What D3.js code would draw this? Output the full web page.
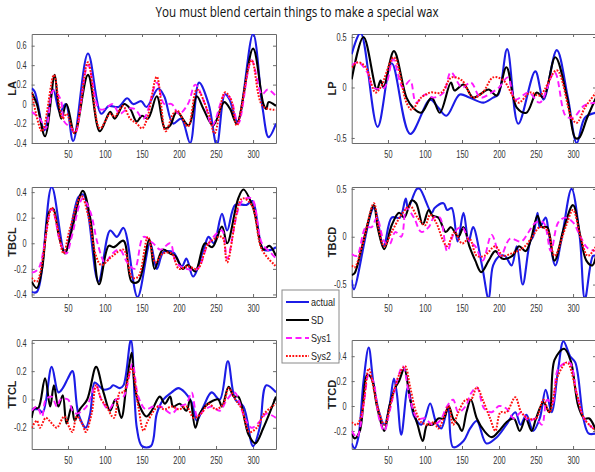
<!DOCTYPE html>
<html><head><meta charset="utf-8">
<script src="https://cdn.jsdelivr.net/npm/d3@7"></script>
<style>body{margin:0;background:#fff}svg{display:block}</style>
</head><body>
<script>
// ---------------- DATA ----------------
const chartTitle = "You must blend certain things to make a special wax";
const seriesNames = ["actual", "SD", "Sys1", "Sys2"];
const xTickValues = [50, 100, 150, 200, 250, 300];
const xLimits = [1, 331];
const panelNames = ["LA", "LP", "TBCL", "TBCD", "TTCL", "TTCD"];

const yLimLA = [-0.4, 0.72],  yTicksLA = [-0.4, -0.2, 0, 0.2, 0.4, 0.6];
const yLimLP = [-0.55, 0.53], yTicksLP = [-0.5, 0, 0.5];
const yLimTBCL = [-0.42, 0.44], yTicksTBCL = [-0.4, -0.2, 0, 0.2, 0.4];
const yLimTBCD = [-0.63, 0.52], yTicksTBCD = [-0.5, 0, 0.5];
const yLimTTCL = [-0.35, 0.42], yTicksTTCL = [-0.2, 0, 0.2, 0.4];
const yLimTTCD = [-0.345, 0.53], yTicksTTCD = [-0.2, 0, 0.2, 0.4];

// LA
const LA_actual = [[1,0.16],[5,0.13],[18,-0.27],[30,0.15],[39,-0.08],[47,0.0],[57,-0.38],[77,0.52],[95,-0.1],[105,-0.02],[118,-0.03],[130,0.06],[138,0.0],[149,0.03],[156,-0.03],[172,0.16],[180,0.08],[192,-0.2],[203,-0.15],[215,-0.4],[227,0.22],[240,0.0],[251,-0.42],[262,0.1],[268,0.05],[279,-0.18],[300,0.72],[313,-0.05],[321,-0.34],[331,-0.2]];
const LA_SD = [[1,0.12],[8,0.0],[19,-0.33],[32,0.3],[36,0.05],[41,-0.15],[48,0.0],[59,-0.3],[77,0.3],[93,-0.28],[107,-0.08],[113,-0.15],[126,0.0],[134,-0.05],[143,-0.18],[150,-0.12],[158,-0.15],[170,0.08],[181,-0.25],[188,-0.22],[197,-0.08],[213,-0.22],[224,0.08],[233,-0.05],[246,-0.22],[261,0.02],[269,-0.05],[278,-0.2],[300,0.57],[314,0.0],[318,-0.05],[321,0.02],[331,-0.02]];
const LA_Sys1 = [[1,-0.08],[12,-0.15],[20,-0.25],[30,0.14],[40,0.05],[45,-0.18],[55,-0.25],[60,-0.3],[77,0.4],[92,-0.05],[100,-0.05],[110,0.0],[120,-0.1],[130,-0.05],[140,-0.05],[152,-0.15],[170,0.22],[180,0.0],[190,0.0],[200,-0.1],[212,0.0],[222,0.2],[235,0.0],[245,-0.22],[262,0.1],[270,0.05],[280,-0.2],[298,0.45],[312,0.1],[320,0.15],[331,0.08]];
const LA_Sys2 = [[1,0.12],[15,-0.28],[31,0.3],[38,0.0],[43,-0.15],[48,-0.1],[59,-0.3],[77,0.43],[93,-0.25],[107,-0.1],[113,-0.13],[124,-0.02],[134,-0.15],[143,-0.2],[150,-0.25],[157,-0.15],[170,0.28],[182,-0.28],[192,-0.1],[198,-0.07],[212,-0.23],[224,0.15],[240,-0.1],[248,-0.3],[262,0.12],[270,0.05],[278,-0.22],[298,0.45],[313,-0.02],[331,-0.06]];

// LP
const LP_actual = [[1,0.33],[13,0.54],[36,-0.39],[55,0.24],[80,-0.46],[107,-0.12],[118,-0.2],[129,-0.28],[147,-0.07],[160,-0.1],[179,-0.15],[192,-0.1],[199,-0.07],[211,0.38],[226,-0.36],[249,0.16],[260,-0.12],[278,0.37],[293,-0.1],[305,-0.55],[316,-0.3],[331,-0.25]];
const LP_SD = [[1,0.08],[17,0.5],[35,-0.02],[40,0.07],[44,0.0],[58,0.36],[75,-0.1],[84,-0.2],[95,-0.25],[109,-0.1],[120,-0.25],[135,0.05],[140,-0.03],[152,0.03],[165,-0.1],[174,-0.07],[186,-0.02],[197,-0.08],[210,0.2],[224,-0.2],[237,-0.25],[251,-0.05],[260,-0.1],[276,0.3],[292,-0.1],[303,-0.5],[308,-0.5],[319,-0.3],[331,-0.1]];
const LP_Sys1 = [[1,0.22],[10,0.25],[22,0.15],[30,0.0],[45,0.0],[57,0.28],[70,0.0],[80,0.07],[88,-0.15],[100,-0.07],[112,-0.1],[125,-0.05],[135,0.15],[150,0.0],[162,0.05],[175,-0.1],[190,-0.05],[200,0.0],[212,0.1],[222,-0.12],[240,-0.05],[255,-0.15],[275,0.15],[290,-0.28],[300,-0.3],[315,-0.18],[331,-0.15]];
const LP_Sys2 = [[1,0.2],[10,0.25],[20,0.2],[33,-0.05],[40,0.0],[58,0.3],[75,-0.15],[82,-0.22],[95,-0.1],[107,-0.05],[122,-0.05],[136,0.1],[150,0.07],[165,-0.1],[178,-0.05],[192,0.1],[206,0.07],[226,-0.15],[242,-0.05],[255,-0.08],[278,0.17],[298,-0.3],[305,-0.35],[316,-0.2],[331,-0.05]];

// TBCL
const TBCL_actual = [[1,-0.38],[8,-0.38],[28,0.44],[46,-0.07],[64,0.36],[71,0.38],[91,-0.3],[107,0.1],[116,0.05],[125,0.12],[144,-0.42],[161,0.0],[170,-0.2],[179,-0.07],[192,-0.07],[204,-0.18],[210,-0.12],[219,-0.26],[233,-0.05],[240,0.05],[247,0.0],[258,0.23],[265,0.1],[276,0.3],[291,0.3],[299,0.33],[314,-0.05],[325,-0.05],[331,-0.03]];
const TBCL_SD = [[1,-0.3],[8,-0.35],[15,-0.2],[25,0.25],[30,0.27],[38,0.05],[46,-0.08],[55,0.1],[70,0.41],[80,0.2],[92,-0.32],[105,-0.02],[112,-0.03],[125,0.02],[136,-0.3],[145,-0.3],[160,0.03],[167,-0.2],[178,-0.05],[188,-0.08],[195,-0.1],[205,-0.2],[212,-0.17],[222,-0.22],[235,0.0],[245,-0.03],[258,0.13],[265,0.0],[280,0.35],[287,0.42],[300,0.28],[314,-0.05],[322,-0.02],[331,-0.1]];
const TBCL_Sys1 = [[1,-0.23],[10,-0.2],[28,0.27],[40,0.0],[48,-0.08],[55,0.05],[70,0.35],[80,0.25],[90,0.0],[100,-0.15],[110,-0.08],[120,-0.05],[130,-0.15],[140,-0.2],[152,0.05],[165,0.0],[175,-0.05],[188,0.0],[196,-0.15],[210,-0.2],[225,-0.2],[240,0.0],[258,0.1],[265,-0.12],[285,0.33],[298,0.35],[312,0.0],[325,-0.08],[331,-0.12]];
const TBCL_Sys2 = [[1,-0.27],[8,-0.3],[28,0.28],[35,0.15],[44,-0.08],[52,0.1],[68,0.37],[78,0.2],[88,-0.1],[95,-0.17],[110,-0.1],[125,-0.05],[137,-0.27],[145,-0.26],[158,0.05],[168,-0.15],[178,-0.08],[190,-0.08],[200,-0.2],[212,-0.18],[225,-0.2],[240,0.0],[258,0.05],[265,-0.15],[285,0.35],[298,0.3],[312,-0.05],[331,-0.18]];

// TBCD
const TBCD_actual = [[1,-0.45],[4,-0.55],[31,0.3],[44,-0.1],[55,0.2],[66,0.2],[74,0.4],[77,0.3],[89,0.5],[93,0.5],[109,0.25],[113,0.3],[125,0.35],[130,0.28],[136,0.3],[144,-0.05],[152,0.25],[159,-0.05],[165,0.1],[177,-0.3],[186,-0.65],[192,-0.3],[201,-0.2],[208,-0.2],[217,-0.3],[224,-0.1],[232,-0.5],[242,-0.05],[246,0.0],[252,0.25],[255,0.1],[263,0.2],[267,0.05],[276,-0.3],[285,0.0],[298,0.5],[309,0.0],[316,-0.65],[327,-0.2],[331,-0.2]];
const TBCD_SD = [[1,-0.4],[5,-0.38],[15,-0.1],[31,0.33],[36,0.1],[45,-0.13],[55,0.12],[65,0.25],[72,0.2],[82,0.38],[88,0.35],[97,0.13],[105,0.28],[110,0.22],[118,0.2],[128,0.05],[135,0.1],[145,0.0],[152,0.1],[160,-0.1],[168,-0.25],[176,-0.37],[186,-0.25],[195,-0.15],[205,-0.23],[218,-0.2],[227,-0.1],[236,-0.15],[243,-0.03],[252,0.22],[258,0.1],[265,0.1],[275,-0.25],[288,0.1],[300,0.33],[310,0.0],[318,-0.25],[326,-0.3],[331,-0.2]];
const TBCD_Sys1 = [[1,-0.18],[8,-0.2],[20,0.1],[28,0.1],[35,0.2],[45,-0.05],[52,-0.08],[60,0.05],[68,0.0],[75,0.3],[85,0.2],[95,0.05],[105,0.1],[112,0.2],[120,0.2],[130,-0.15],[140,0.05],[150,0.1],[160,-0.05],[168,-0.1],[178,-0.25],[190,0.02],[202,-0.2],[215,-0.02],[230,-0.05],[240,0.05],[250,0.15],[260,0.15],[270,-0.15],[280,0.15],[290,0.2],[300,0.15],[310,0.0],[320,-0.12],[331,-0.15]];
const TBCD_Sys2 = [[1,-0.3],[5,-0.32],[15,-0.1],[31,0.35],[37,0.1],[45,-0.1],[55,0.05],[70,0.25],[80,0.32],[90,0.2],[100,0.12],[107,0.23],[115,0.15],[125,-0.05],[130,-0.1],[140,0.05],[150,-0.07],[160,-0.02],[170,-0.2],[180,-0.2],[195,-0.1],[205,-0.2],[215,-0.18],[225,-0.15],[235,-0.1],[245,0.0],[255,0.1],[265,0.07],[275,-0.2],[290,0.1],[300,0.28],[310,0.0],[320,-0.2],[331,-0.1]];

// TTCL
const TTCL_actual = [[1,-0.07],[10,-0.07],[16,-0.09],[28,0.23],[37,0.05],[43,0.08],[50,0.15],[56,0.2],[64,-0.1],[74,-0.2],[80,-0.1],[86,0.12],[91,0.1],[98,0.07],[107,0.08],[111,0.1],[120,0.08],[125,0.1],[135,0.42],[143,-0.2],[150,-0.33],[162,-0.33],[170,-0.1],[179,0.0],[190,0.05],[199,0.08],[208,0.05],[217,-0.02],[224,-0.15],[233,-0.05],[244,0.05],[255,0.0],[266,0.27],[276,0.0],[287,-0.05],[300,-0.33],[309,-0.2],[318,0.1],[331,0.05]];
const TTCL_SD = [[1,-0.13],[5,-0.06],[10,-0.06],[19,0.15],[26,-0.05],[31,0.1],[37,-0.05],[43,0.03],[48,-0.17],[55,-0.05],[59,-0.15],[66,-0.07],[76,0.0],[88,0.23],[98,0.05],[107,-0.08],[114,0.0],[122,-0.13],[129,0.1],[136,0.33],[140,0.1],[147,-0.05],[156,-0.12],[163,-0.08],[174,0.02],[181,-0.03],[188,0.02],[192,-0.05],[201,-0.03],[210,-0.08],[215,0.0],[222,-0.2],[228,-0.1],[235,-0.05],[242,-0.02],[253,0.0],[258,-0.05],[267,0.09],[274,0.02],[280,0.02],[294,-0.25],[303,-0.31],[314,-0.2],[331,0.02]];
const TTCL_Sys1 = [[1,-0.08],[8,-0.05],[15,-0.12],[20,0.0],[28,0.02],[35,-0.05],[40,0.0],[50,0.0],[56,-0.08],[62,-0.1],[75,-0.05],[88,0.1],[95,0.0],[105,-0.07],[115,0.0],[125,0.02],[137,0.25],[145,0.02],[155,-0.07],[165,-0.05],[175,-0.05],[190,-0.1],[200,-0.05],[210,-0.03],[217,0.05],[225,-0.12],[235,-0.07],[245,-0.05],[255,-0.08],[265,0.0],[275,0.05],[288,-0.12],[298,-0.2],[310,-0.15],[318,-0.1],[331,-0.13]];
const TTCL_Sys2 = [[1,-0.2],[8,-0.15],[12,-0.2],[20,-0.13],[25,-0.15],[30,-0.18],[35,-0.2],[45,-0.12],[52,-0.2],[56,-0.23],[62,-0.12],[70,-0.18],[74,-0.23],[82,-0.1],[88,0.1],[95,0.0],[102,-0.05],[112,-0.13],[120,0.05],[125,0.05],[136,0.22],[145,-0.05],[152,-0.22],[158,-0.15],[172,-0.05],[180,-0.07],[190,-0.05],[200,-0.07],[210,-0.05],[220,-0.13],[230,-0.1],[240,-0.03],[250,-0.07],[260,-0.03],[267,0.08],[276,0.0],[285,-0.07],[295,-0.23],[305,-0.2],[315,-0.1],[331,-0.03]];

// TTCD
const TTCD_actual = [[1,-0.3],[5,-0.34],[10,-0.25],[17,0.2],[24,0.47],[30,0.2],[38,-0.05],[45,-0.15],[52,0.0],[58,0.22],[62,0.1],[68,-0.23],[77,0.15],[85,-0.08],[95,-0.15],[100,-0.1],[107,0.02],[115,-0.13],[122,-0.18],[131,-0.02],[138,-0.33],[152,-0.28],[161,-0.18],[170,-0.12],[183,-0.3],[197,-0.25],[210,-0.15],[222,-0.05],[229,-0.15],[237,-0.07],[246,-0.2],[255,-0.1],[263,0.13],[271,-0.05],[280,0.3],[287,0.52],[296,0.4],[303,0.35],[314,-0.1],[321,-0.22],[331,-0.22]];
const TTCD_SD = [[1,-0.22],[5,-0.26],[12,-0.2],[22,0.25],[28,0.22],[35,0.0],[45,-0.2],[52,0.0],[60,0.15],[65,0.2],[72,0.3],[80,0.05],[90,-0.15],[97,-0.28],[103,-0.15],[110,-0.15],[118,-0.1],[125,-0.1],[132,0.0],[138,-0.1],[145,-0.15],[150,-0.2],[156,-0.05],[162,0.05],[170,-0.1],[180,-0.2],[190,-0.25],[200,-0.2],[210,-0.13],[220,-0.1],[228,-0.2],[236,-0.1],[244,-0.2],[250,-0.1],[260,0.03],[268,-0.05],[275,0.37],[288,0.46],[297,0.36],[307,0.0],[315,-0.1],[322,-0.1],[331,-0.2]];
const TTCD_Sys1 = [[1,-0.2],[8,-0.25],[18,0.05],[24,0.25],[30,0.2],[38,-0.1],[45,-0.2],[52,-0.05],[60,0.15],[70,0.32],[80,0.05],[90,-0.1],[100,-0.1],[110,-0.15],[120,-0.12],[130,0.0],[138,0.05],[145,-0.05],[155,0.0],[162,0.1],[170,0.15],[180,-0.02],[190,-0.05],[200,0.0],[210,-0.02],[220,-0.1],[230,-0.05],[240,-0.12],[250,-0.1],[258,-0.15],[265,0.05],[272,0.02],[280,0.3],[295,0.35],[305,0.1],[315,-0.1],[331,-0.2]];
const TTCD_Sys2 = [[1,-0.13],[8,-0.15],[15,-0.05],[24,0.3],[32,0.1],[38,-0.05],[45,-0.15],[55,0.05],[65,0.25],[73,0.32],[80,0.15],[88,-0.05],[95,-0.13],[105,-0.15],[112,-0.13],[118,-0.18],[125,-0.1],[132,0.0],[138,-0.15],[145,-0.05],[155,0.05],[162,0.05],[170,0.15],[178,0.05],[188,-0.1],[195,-0.2],[202,-0.05],[210,-0.05],[222,0.07],[230,-0.05],[240,-0.1],[250,-0.1],[260,0.05],[268,-0.05],[280,0.25],[292,0.35],[305,0.1],[315,-0.1],[331,-0.2]];

// ---------------- LAYOUT / STYLE ----------------
const W = 595, H = 472;
const colRanges = [[31.7, 276], [351.7, 596]];
const rowRanges = [[34, 143], [187, 297], [340, 449]];
const styles = {
  actual: {color: "#1c1ce6", width: 2.1, dash: null},
  SD:     {color: "#000000", width: 2.1, dash: null},
  Sys1:   {color: "#ff1aff", width: 1.9, dash: "6,3.5"},
  Sys2:   {color: "#ff1010", width: 2.0, dash: "1.8,1.4"}
};
const TXS = 0.74; // horizontal squeeze of figure text

const panels = [
  {name: "LA",   yLim: yLimLA,   yTicks: yTicksLA,   data: [LA_actual, LA_SD, LA_Sys1, LA_Sys2]},
  {name: "LP",   yLim: yLimLP,   yTicks: yTicksLP,   data: [LP_actual, LP_SD, LP_Sys1, LP_Sys2]},
  {name: "TBCL", yLim: yLimTBCL, yTicks: yTicksTBCL, data: [TBCL_actual, TBCL_SD, TBCL_Sys1, TBCL_Sys2]},
  {name: "TBCD", yLim: yLimTBCD, yTicks: yTicksTBCD, data: [TBCD_actual, TBCD_SD, TBCD_Sys1, TBCD_Sys2]},
  {name: "TTCL", yLim: yLimTTCL, yTicks: yTicksTTCL, data: [TTCL_actual, TTCL_SD, TTCL_Sys1, TTCL_Sys2]},
  {name: "TTCD", yLim: yLimTTCD, yTicks: yTicksTTCD, data: [TTCD_actual, TTCD_SD, TTCD_Sys1, TTCD_Sys2]}
];

const svg = d3.select("body").append("svg").attr("width", W).attr("height", H)
  .style("font-family", "'Liberation Sans', Arial, sans-serif");

svg.append("text").attr("x", 297).attr("y", 17).attr("text-anchor", "middle")
  .attr("font-size", 15).attr("fill", "#111")
  .attr("font-family", "'Open Sans', 'Liberation Sans', sans-serif")
  .attr("textLength", 283).attr("lengthAdjust", "spacingAndGlyphs")
  .text(chartTitle);

const fmt = d => String(d);
const axisColor = "#6a6a6a";

panels.forEach((p, i) => {
  const col = i % 2, row = Math.floor(i / 2);
  const xr = colRanges[col], yr = rowRanges[row];
  const x = d3.scaleLinear().domain(xLimits).range(xr);
  const y = d3.scaleLinear().domain(p.yLim).range([yr[1], yr[0]]);
  const g = svg.append("g");
  const clipId = "clip" + i;
  svg.append("clipPath").attr("id", clipId).append("rect")
    .attr("x", xr[0]).attr("y", yr[0]).attr("width", xr[1] - xr[0]).attr("height", yr[1] - yr[0]);

  const ax = (axis, tx, ty) => {
    const a = g.append("g").attr("transform", `translate(${tx},${ty})`).call(axis);
    a.select(".domain").attr("stroke", axisColor);
    a.selectAll(".tick line").attr("stroke", axisColor);
    a.selectAll("text").attr("fill", "#333").attr("font-size", 10);
    return a;
  };
  const bottom = ax(d3.axisBottom(x).tickValues(xTickValues).tickSizeInner(-3).tickSizeOuter(0).tickPadding(8).tickFormat(fmt), 0, yr[1]);
  bottom.selectAll("text").attr("transform", `scale(${TXS},1)`);
  ax(d3.axisTop(x).tickValues(xTickValues).tickSizeInner(-3).tickSizeOuter(0).tickFormat(""), 0, yr[0]);
  const left = ax(d3.axisLeft(y).tickValues(p.yTicks).tickSizeInner(-3).tickSizeOuter(0).tickPadding(5).tickFormat(fmt), xr[0], 0);
  left.selectAll("text").attr("x", -5 / TXS).attr("transform", `scale(${TXS},1)`);
  ax(d3.axisRight(y).tickValues(p.yTicks).tickSizeInner(-3).tickSizeOuter(0).tickFormat(""), xr[1], 0);

  const line = d3.line().x(d => x(d[0])).y(d => y(d[1])).curve(d3.curveCatmullRom.alpha(0.5));
  const lg = g.append("g").attr("clip-path", `url(#${clipId})`);
  p.data.forEach((s, k) => {
    const st = styles[seriesNames[k]];
    lg.append("path").datum(s).attr("d", line).attr("fill", "none")
      .attr("stroke", st.color).attr("stroke-width", st.width)
      .attr("stroke-dasharray", st.dash).attr("stroke-linejoin", "round");
  });

  const lx = col === 0 ? 12 : 332;
  svg.append("text").attr("transform", `translate(${lx},${(yr[0] + yr[1]) / 2}) rotate(-90)`)
    .attr("text-anchor", "middle").attr("dy", "0.35em").attr("font-weight", "bold")
    .attr("font-size", 11).attr("fill", "#222").text(p.name);
});

// legend
const lgd = svg.append("g");
lgd.append("rect").attr("x", 282).attr("y", 290).attr("width", 57).attr("height", 73)
  .attr("fill", "#fff").attr("stroke", "#8a8a8a").attr("stroke-width", 1);
const legendY = d3.scalePoint().domain(seriesNames).range([302, 356]);
seriesNames.forEach(n => {
  const st = styles[n];
  const yy = legendY(n);
  lgd.append("line").attr("x1", 286).attr("x2", 309).attr("y1", yy).attr("y2", yy)
    .attr("stroke", st.color).attr("stroke-width", 2).attr("stroke-dasharray", st.dash);
  lgd.append("text").attr("transform", `translate(311,${yy}) scale(0.82,1)`).attr("dy", "0.35em")
    .attr("font-size", 11).attr("fill", "#222").text(n);
});
</script>
</body></html>
